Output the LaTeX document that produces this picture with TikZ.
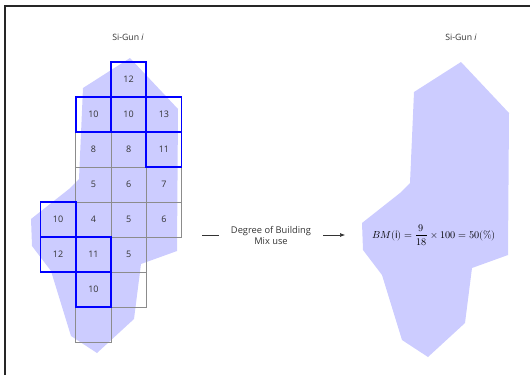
\documentclass[tikz,border=0pt]{standalone}
\usepackage{fontspec}
\setmainfont{Open Sans}
\usepackage{unicode-math}
\setmathfont{Latin Modern Math}
\usetikzlibrary{arrows.meta}
\definecolor{regionfill}{HTML}{CCCCFF}
\definecolor{gridgrey}{HTML}{8C8C8C}
\definecolor{txtgrey}{HTML}{333333}
\begin{document}
\begin{tikzpicture}[x=1pt,y=-1pt,
  cell/.style={draw=gridgrey,line width=0.7pt,minimum width=35.25pt,minimum height=35pt,inner sep=0pt,
    font=\fontsize{9}{10}\selectfont,text=txtgrey},
  bluecell/.style={cell,draw=blue,line width=1.8pt},
  region/.style={fill=regionfill,draw=none},
  title/.style={font=\fontsize{8.7}{10}\selectfont,text=txtgrey},
  label/.style={font=\fontsize{9.3}{11}\selectfont,text=txtgrey,align=center,inner xsep=12pt},
  conn/.style={draw=black!80,line width=0.6pt}
]
\useasboundingbox (0,0) rectangle (530,375);
% frame
\draw[line width=2pt,black!85] (5,375) -- (5,6) -- (530,6);
% regions
\fill[region] (130,58) -- (178,109) -- (177,251) -- (141,264) -- (134,319) -- (97,353) -- (71,336) -- (51,271) -- (32,246) -- (31,219) -- (69,189) -- (79,179) -- (83,88) -- cycle;
\fill[region] (461,62) -- (509,113) -- (508,255) -- (472,268) -- (465,323) -- (428,357) -- (402,340) -- (382,275) -- (363,250) -- (362,223) -- (400,193) -- (410,183) -- (414,92) -- cycle;
% titles
\node[title] (t1) at (128,37) {Si-Gun \textit{i}};
\node[title] (t2) at (461,37) {Si-Gun \textit{i}};
% grey cells
\node[cell] (c20) at (93.4,149.5) {8};
\node[cell] (c21) at (128.6,149.5) {8};
\node[cell] (c30) at (93.4,184.5) {5};
\node[cell] (c31) at (128.6,184.5) {6};
\node[cell] (c32) at (163.9,184.5) {7};
\node[cell] (c40) at (93.4,219.5) {4};
\node[cell] (c41) at (128.6,219.5) {5};
\node[cell] (c42) at (163.9,219.5) {6};
\node[cell] (c51) at (128.6,254.5) {5};
\node[cell] (c61) at (128.6,289.5) {};
\node[cell] (c70) at (93.4,324.5) {};
% blue cells
\node[bluecell] (c01) at (128.6,79.5) {12};
\node[bluecell] (c10) at (93.4,114.5) {10};
\node[bluecell] (c11) at (128.6,114.5) {10};
\node[bluecell] (c12) at (163.9,114.5) {13};
\node[bluecell] (c22) at (163.9,149.5) {11};
\node[bluecell] (c4m) at (58.1,219.5) {10};
\node[bluecell] (c5m) at (58.1,254.5) {12};
\node[bluecell] (c50) at (93.4,254.5) {11};
\node[bluecell] (c60) at (93.4,289.5) {10};
% label and arrow
\node[label] (deg) at (271,235) {Degree of Building\\Mix use};
\coordinate (l0) at (202,235);
\coordinate (a1) at (345,235);
\draw[conn] (l0) -- (l0 -| deg.west);
\draw[conn,-{Latex[length=5pt,width=4pt]}] (deg.east |- a1) -- (a1);
\node[font=\fontsize{10.2}{11}\selectfont] (bm) at (434,235) {$BM(\mathrm{i}) = \dfrac{9}{18}\times 100 = 50(\%)$};
\end{tikzpicture}
\end{document}
